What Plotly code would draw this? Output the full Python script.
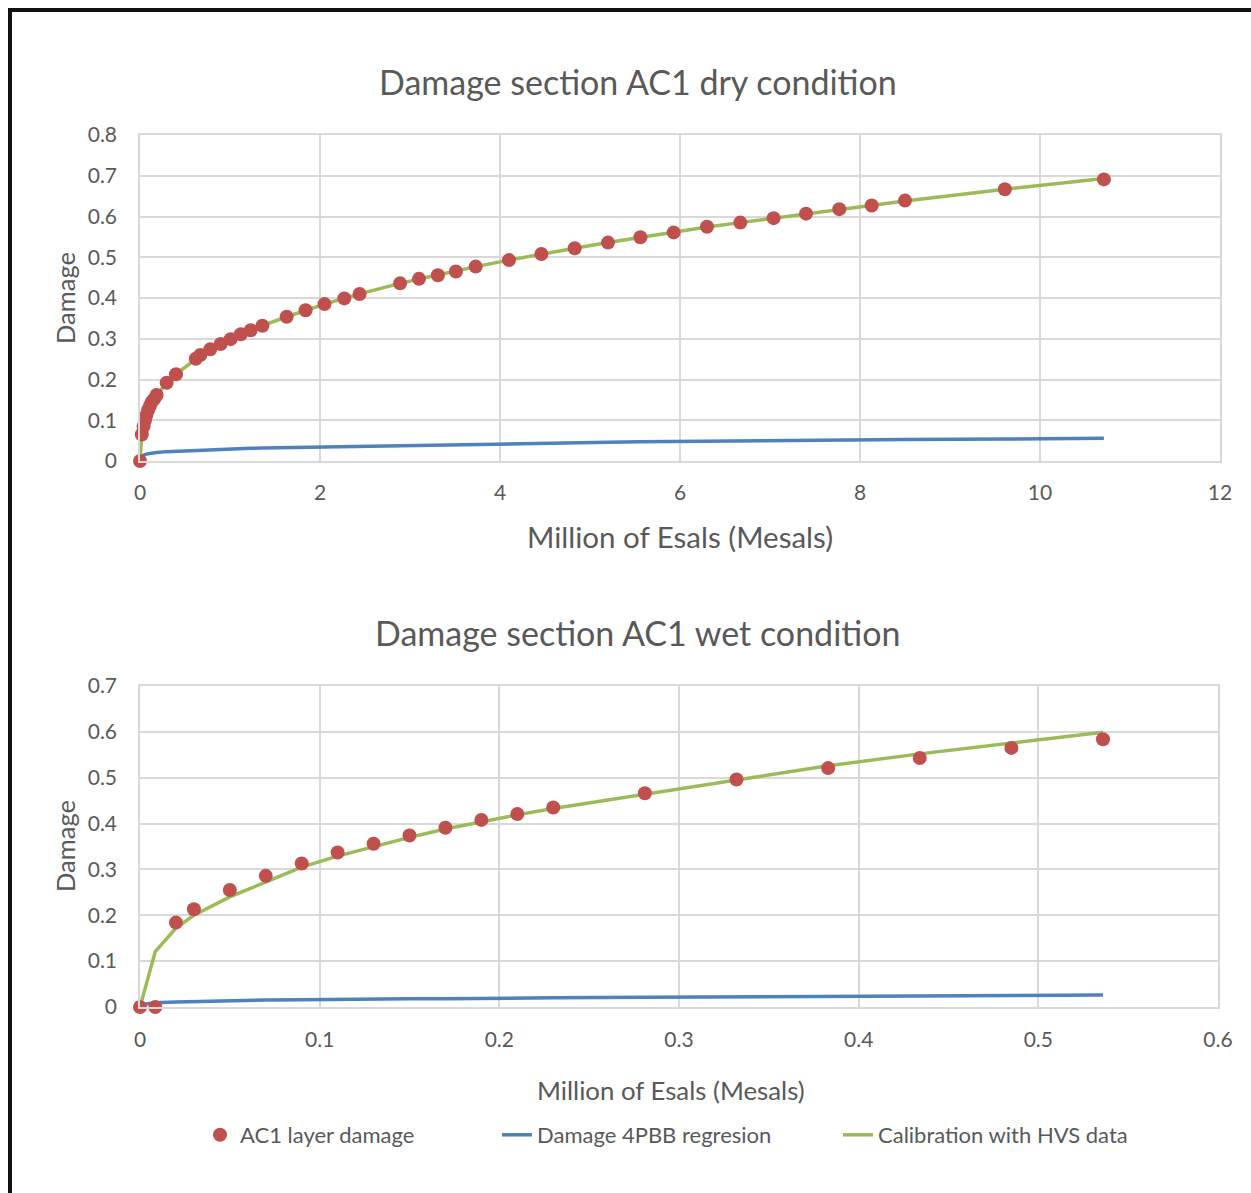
import plotly.graph_objects as go

# ---------------- data ----------------
dry_x = [0, 0.02, 0.04, 0.055, 0.07, 0.09, 0.11, 0.13, 0.16, 0.185, 0.296, 0.40, 0.62, 0.67,
         0.78, 0.896, 1.007, 1.12, 1.23, 1.36, 1.63, 1.84, 2.05, 2.27, 2.44, 2.89, 3.10, 3.31,
         3.51, 3.73, 4.10, 4.46, 4.83, 5.20, 5.56, 5.93, 6.30, 6.67, 7.04, 7.40, 7.77, 8.13,
         8.50, 9.61, 10.71]
dry_points = [0, 0.065, 0.085, 0.100, 0.112, 0.125, 0.135, 0.145, 0.153, 0.162, 0.192, 0.213,
              0.251, 0.260, 0.274, 0.287, 0.299, 0.311, 0.321, 0.332, 0.354, 0.370, 0.385, 0.399,
              0.410, 0.436, 0.447, 0.456, 0.465, 0.477, 0.493, 0.508, 0.522, 0.536, 0.549, 0.561,
              0.575, 0.585, 0.596, 0.607, 0.618, 0.627, 0.639, 0.667, 0.691]
dry_calib = [0, 0.065, 0.085, 0.100, 0.112, 0.124, 0.134, 0.144, 0.153, 0.161, 0.192, 0.213,
             0.250, 0.259, 0.273, 0.287, 0.299, 0.310, 0.321, 0.332, 0.354, 0.370, 0.385, 0.399,
             0.410, 0.436, 0.447, 0.457, 0.466, 0.477, 0.493, 0.508, 0.522, 0.536, 0.549, 0.561,
             0.574, 0.585, 0.596, 0.607, 0.617, 0.627, 0.638, 0.667, 0.693]
dry_4pbb = [0.0105, 0.013, 0.015, 0.016, 0.017, 0.018, 0.019, 0.0195, 0.020, 0.021, 0.023, 0.024,
            0.027, 0.027, 0.028, 0.029, 0.030, 0.030, 0.031, 0.032, 0.033, 0.034, 0.035, 0.036,
            0.037, 0.039, 0.040, 0.040, 0.041, 0.042, 0.043, 0.044, 0.045, 0.046, 0.047, 0.048,
            0.049, 0.050, 0.050, 0.051, 0.052, 0.052, 0.053, 0.054, 0.056]

wet_x = [0, 0.0085, 0.02, 0.03, 0.05, 0.07, 0.09, 0.11, 0.13, 0.15, 0.17, 0.19, 0.21, 0.23,
         0.281, 0.332, 0.383, 0.434, 0.485, 0.536]
wet_points = [0, 0, 0.184, 0.213, 0.255, 0.286, 0.313, 0.337, 0.356, 0.374, 0.391, 0.408, 0.421,
              0.435, 0.466, 0.496, 0.521, 0.543, 0.565, 0.584]
wet_calib = [0, 0.121, 0.172, 0.200, 0.240, 0.273, 0.305, 0.329, 0.350, 0.370, 0.388, 0.404,
             0.419, 0.433, 0.464, 0.496, 0.526, 0.552, 0.575, 0.599]
wet_4pbb = [0.005, 0.009, 0.011, 0.012, 0.014, 0.015, 0.016, 0.017, 0.017, 0.018, 0.018, 0.019,
            0.019, 0.020, 0.021, 0.022, 0.023, 0.024, 0.025, 0.026]

dry_xticks = [0, 2, 4, 6, 8, 10, 12]
dry_yticks = [0, 0.1, 0.2, 0.3, 0.4, 0.5, 0.6, 0.7, 0.8]
wet_xticks = [0, 0.1, 0.2, 0.3, 0.4, 0.5, 0.6]
wet_yticks = [0, 0.1, 0.2, 0.3, 0.4, 0.5, 0.6, 0.7]

names = ["AC1 layer damage", "Damage 4PBB regresion", "Calibration with HVS data"]
titles = ["Damage section AC1 dry condition", "Damage section AC1 wet condition"]
x_title = "Million of Esals (Mesals)"
y_title = "Damage"

# ---------------- figure ----------------
W, H = 1251, 1193
FONT = "Lato"
GRAY = "#595959"
RED = "#c0504d"
BLUE = "#4f81bd"
GREEN = "#9bbb59"
GRID = "#d9d9d9"

def px(x):
    return x / W

def py(y):
    return 1 - y / H

fig = go.Figure()

legend_widths = {names[0]: 252, names[1]: 296, names[2]: None}

sets = [
    ("x", "y", dry_x, dry_points, dry_calib, dry_4pbb, True),
    ("x2", "y2", wet_x, wet_points, wet_calib, wet_4pbb, False),
]
for xa, ya, xs, pts, cal, reg, show in sets:
    fig.add_trace(go.Scatter(x=xs, y=reg, mode="lines", name=names[1], xaxis=xa, yaxis=ya,
                             line=dict(color=BLUE, width=3.5), legendrank=2, showlegend=show,
                             legendwidth=legend_widths[names[1]], cliponaxis=False))
    fig.add_trace(go.Scatter(x=xs, y=cal, mode="lines", name=names[2], xaxis=xa, yaxis=ya,
                             line=dict(color=GREEN, width=3.5), legendrank=3, showlegend=show,
                             cliponaxis=False))
    fig.add_trace(go.Scatter(x=xs, y=pts, mode="markers", name=names[0], xaxis=xa, yaxis=ya,
                             marker=dict(color=RED, size=14), legendrank=1, showlegend=show,
                             legendwidth=legend_widths[names[0]], cliponaxis=False))

axis_common = dict(showgrid=True, gridcolor=GRID, gridwidth=1.5, showline=True,
                   linecolor=GRID, linewidth=1.5, mirror=True, zeroline=False,
                   ticks="outside", tickcolor="rgba(0,0,0,0)", automargin=False,
                   tickfont=dict(family=FONT, size=21, color=GRAY), fixedrange=True)

fig.update_layout(
    template="none",
    width=W, height=H,
    margin=dict(l=0, r=0, t=0, b=0, autoexpand=False),
    paper_bgcolor="white", plot_bgcolor="white",
    showlegend=True,
    xaxis=dict(domain=[px(140), px(1220)], range=[0, 12], tickvals=dry_xticks,
               anchor="y", ticklen=12, **axis_common),
    yaxis=dict(domain=[py(461), py(135)], range=[0, 0.8], tickvals=dry_yticks,
               anchor="x", ticklen=17, **axis_common),
    xaxis2=dict(domain=[px(140), px(1218)], range=[0, 0.6], tickvals=wet_xticks,
                anchor="y2", ticklen=13, **axis_common),
    yaxis2=dict(domain=[py(1007), py(686)], range=[0, 0.7], tickvals=wet_yticks,
                anchor="x2", ticklen=17, **axis_common),
    legend=dict(orientation="h", x=px(200), xanchor="left", y=py(1135), yanchor="middle",
                font=dict(family=FONT, size=22, color=GRAY), bgcolor="rgba(0,0,0,0)",
                borderwidth=0),
)

ann = []
ann.append(dict(text=titles[0], x=px(638), y=py(81), xref="paper", yref="paper",
                showarrow=False, font=dict(family=FONT, size=34, color=GRAY),
                xanchor="center", yanchor="middle"))
ann.append(dict(text=titles[1], x=px(638), y=py(632), xref="paper", yref="paper",
                showarrow=False, font=dict(family=FONT, size=34, color=GRAY),
                xanchor="center", yanchor="middle"))
ann.append(dict(text=x_title, x=px(680), y=py(536), xref="paper", yref="paper",
                showarrow=False, font=dict(family=FONT, size=29.5, color=GRAY),
                xanchor="center", yanchor="middle"))
ann.append(dict(text=x_title, x=px(671), y=py(1090), xref="paper", yref="paper",
                showarrow=False, font=dict(family=FONT, size=25.8, color=GRAY),
                xanchor="center", yanchor="middle"))
ann.append(dict(text=y_title, x=px(65), y=py(298), xref="paper", yref="paper",
                showarrow=False, textangle=-90, font=dict(family=FONT, size=25.5, color=GRAY),
                xanchor="center", yanchor="middle"))
ann.append(dict(text=y_title, x=px(65), y=py(846), xref="paper", yref="paper",
                showarrow=False, textangle=-90, font=dict(family=FONT, size=25.5, color=GRAY),
                xanchor="center", yanchor="middle"))
fig.update_layout(annotations=ann)

# outer frame (top and left edges visible in the reference)
fig.add_shape(type="line", xref="paper", yref="paper", x0=px(8), x1=px(1260), y0=py(10), y1=py(10),
              line=dict(color="#111111", width=4))
fig.add_shape(type="line", xref="paper", yref="paper", x0=px(10), x1=px(10), y0=py(8), y1=py(1200),
              line=dict(color="#111111", width=4))

fig.write_html("out.html")
